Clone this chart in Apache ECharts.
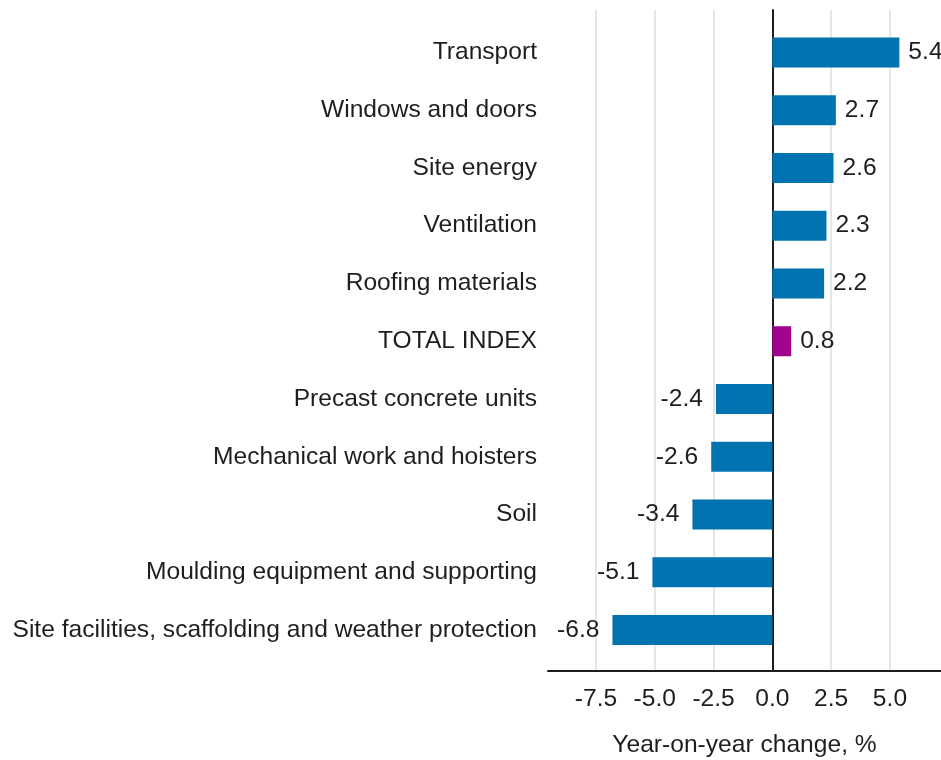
<!DOCTYPE html>
<html>
<head>
<meta charset="utf-8">
<script src="https://cdn.jsdelivr.net/npm/echarts@6/dist/echarts.min.js"></script>
<style>
  html, body { margin: 0; padding: 0; background: #fff; }
  #chart { width: 941px; height: 760px; }
</style>
</head>
<body>
<div id="chart"></div>
<script>
// categories top to bottom
const categories = [
  "Transport",
  "Windows and doors",
  "Site energy",
  "Ventilation",
  "Roofing materials",
  "TOTAL INDEX",
  "Precast concrete units",
  "Mechanical work and hoisters",
  "Soil",
  "Moulding equipment and supporting",
  "Site facilities, scaffolding and weather protection"
];
const values = [5.4, 2.7, 2.6, 2.3, 2.2, 0.8, -2.4, -2.6, -3.4, -5.1, -6.8];
const highlight = "TOTAL INDEX";
const tickValues = [-7.5, -5.0, -2.5, 0.0, 2.5, 5.0];
const axisTitle = "Year-on-year change, %";

const FONT = "'Liberation Sans', Arial, sans-serif";
const FS = 24.6;
const TEXT = "#1e1e1e";
const xMin = -9.54;
const xMax = 7.17;

const chart = echarts.init(document.getElementById("chart"));

const barData = values.map(function (v, i) {
  return {
    value: v,
    itemStyle: {
      color: categories[i] === highlight ? "#a0048c" : "#0073b0"
    },
    label: {
      position: v < 0 ? "left" : "right",
      distance: v < 0 ? 13 : 9
    }
  };
});

chart.setOption({
  backgroundColor: "#fff",
  animation: false,
  textStyle: { fontFamily: FONT },
  grid: [
    // frame: gridlines, x axis, zero line
    { left: 548, right: 0, top: 10, bottom: 89, outerBoundsMode: "none" },
    // bars
    { left: 548, right: 0, top: 23.5, bottom: 101, outerBoundsMode: "none" }
  ],
  xAxis: [
    {
      type: "value",
      gridIndex: 0,
      min: xMin,
      max: xMax,
      axisLine: { show: true, onZero: false, lineStyle: { color: TEXT, width: 2 } },
      axisTick: { show: false, customValues: tickValues },
      axisLabel: {
        customValues: tickValues,
        color: TEXT,
        fontSize: FS,
        fontFamily: FONT,
        margin: 16,
        formatter: function (v) { return v.toFixed(1); }
      },
      splitLine: { show: true, lineStyle: { color: "#e6e6e6", width: 2 } },
      name: axisTitle,
      nameLocation: "middle",
      nameGap: 62,
      nameTextStyle: { color: TEXT, fontSize: FS, fontFamily: FONT }
    },
    {
      type: "value",
      gridIndex: 1,
      min: xMin,
      max: xMax,
      show: false
    }
  ],
  yAxis: [
    {
      type: "value",
      gridIndex: 0,
      min: 0,
      max: 1,
      axisLine: { show: true, onZero: true, lineStyle: { color: TEXT, width: 2 } },
      axisTick: { show: false },
      axisLabel: { show: false },
      splitLine: { show: false }
    },
    {
      type: "category",
      gridIndex: 1,
      inverse: true,
      data: categories,
      axisLine: { show: false, onZero: false },
      axisTick: { show: false },
      axisLabel: {
        color: TEXT,
        fontSize: FS,
        fontFamily: FONT,
        margin: 11
      },
      splitLine: { show: false }
    }
  ],
  series: [
    {
      type: "bar",
      xAxisIndex: 1,
      yAxisIndex: 1,
      barWidth: 30,
      data: barData,
      label: {
        show: true,
        color: TEXT,
        fontSize: FS,
        fontFamily: FONT,
        formatter: function (p) { return p.value.toFixed(1); }
      },
      z: 3
    }
  ]
});
</script>
</body>
</html>
